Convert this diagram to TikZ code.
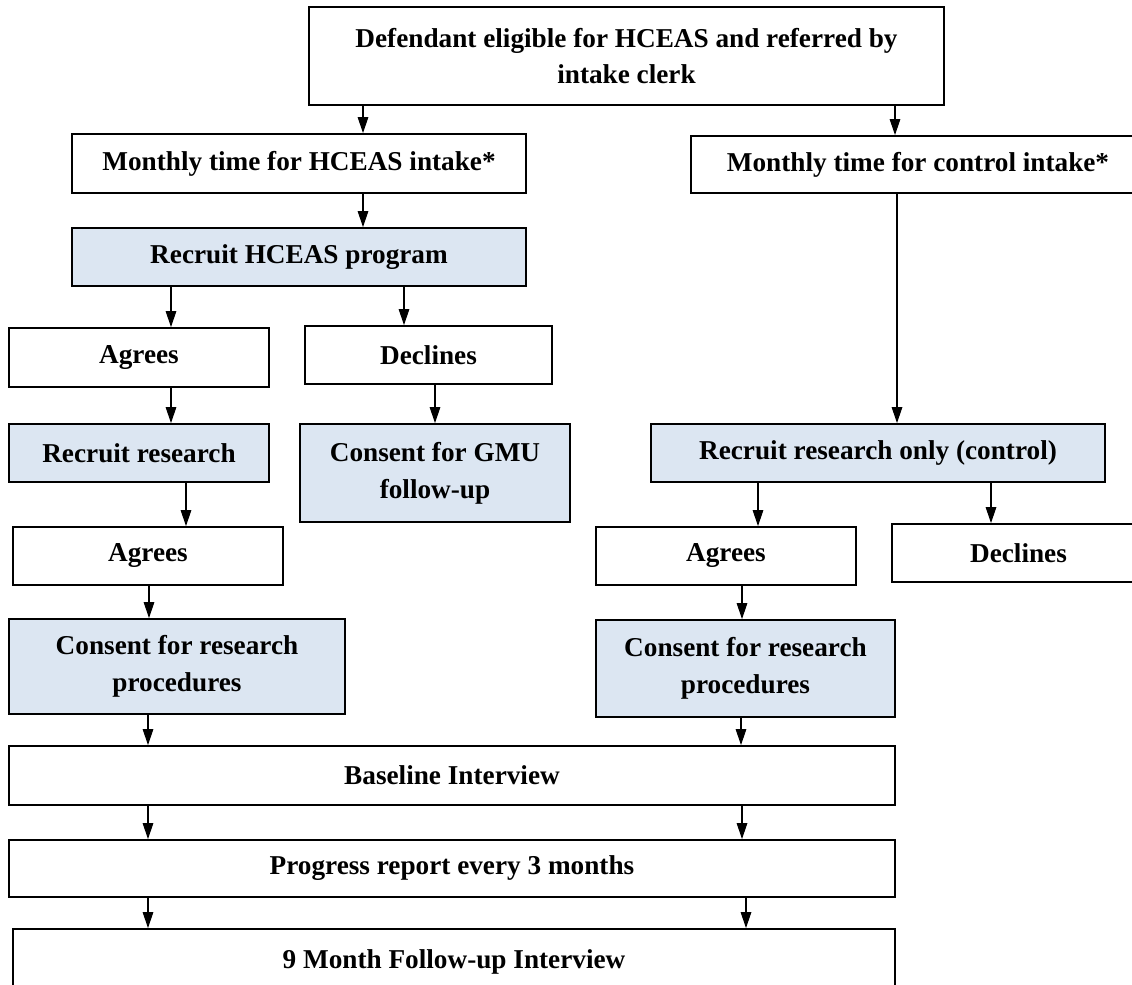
\documentclass[tikz,border=0pt]{standalone}
\usepackage{fontspec}
\setmainfont{Liberation Serif}
\usetikzlibrary{arrows.meta}
\definecolor{boxblue}{HTML}{DCE6F2}
\newcommand\bx[7]{\node[#6, minimum width={(#4-#2)*0.02cm}, minimum height={(#5-#3)*0.02cm}] (#1) at ({(#2+#4)/2},{(#3+#5)/2}) {#7};}
\tikzset{
  plain/.style={draw=black, line width=1.1pt, fill=white, inner sep=2pt, align=center,
    font=\fontsize{15.5}{21}\selectfont\bfseries},
  blue/.style={plain, fill=boxblue},
  arr/.style={line width=0.6pt, -{Triangle[length=9pt,width=6pt]}}
}
\begin{document}
\begin{tikzpicture}[x=0.02cm,y=-0.02cm]
\useasboundingbox (0,0) rectangle (1132,984);
\bx{top}{309}{7}{944}{105}{plain}{Defendant eligible for HCEAS and referred by\\intake clerk}
\bx{hint}{72}{134}{526}{193}{plain}{Monthly time for HCEAS intake*}
\bx{cint}{691}{136}{1145}{193}{plain}{Monthly time for control intake*}
\bx{rech}{72}{228}{526}{286}{blue}{Recruit HCEAS program}
\bx{agr1}{9}{328}{269}{387}{plain}{Agrees}
\bx{dec1}{305}{326}{552}{384}{plain}{Declines}
\bx{recr}{9}{424}{269}{482}{blue}{Recruit research}
\bx{gmu}{300}{424}{570}{522}{blue}{Consent for GMU\\follow-up}
\bx{recc}{651}{424}{1105}{482}{blue}{Recruit research only (control)}
\bx{agr2}{13}{527}{283}{585}{plain}{Agrees}
\bx{agr3}{596}{527}{856}{585}{plain}{Agrees}
\bx{dec2}{892}{524}{1145}{582}{plain}{Declines}
\bx{con1}{9}{619}{345}{714}{blue}{Consent for research\\procedures}
\bx{con2}{596}{620}{895}{717}{blue}{Consent for research\\procedures}
\bx{base}{9}{746}{895}{805}{plain}{Baseline Interview}
\bx{prog}{9}{840}{895}{897}{plain}{Progress report every 3 months}
\bx{nine}{13}{929}{895}{994}{plain}{9 Month Follow-up Interview}
\foreach \n/\x in {a/363,b/895,c/171,d/404,e/435,f/897,g/186,h/758,i/991,j/149,k/742,l/148,m/741,n/746}
  {\coordinate (x\n) at (\x,0);}
\draw[arr] (top.south -| xa) -- (hint.north -| xa);
\draw[arr] (top.south -| xb) -- (cint.north -| xb);
\draw[arr] (hint.south -| xa) -- (rech.north -| xa);
\draw[arr] (rech.south -| xc) -- (agr1.north -| xc);
\draw[arr] (rech.south -| xd) -- (dec1.north -| xd);
\draw[arr] (agr1.south -| xc) -- (recr.north -| xc);
\draw[arr] (dec1.south -| xe) -- (gmu.north -| xe);
\draw[arr] (cint.south -| xf) -- (recc.north -| xf);
\draw[arr] (recr.south -| xg) -- (agr2.north -| xg);
\draw[arr] (recc.south -| xh) -- (agr3.north -| xh);
\draw[arr] (recc.south -| xi) -- (dec2.north -| xi);
\draw[arr] (agr2.south -| xj) -- (con1.north -| xj);
\draw[arr] (agr3.south -| xk) -- (con2.north -| xk);
\draw[arr] (con1.south -| xl) -- (base.north -| xl);
\draw[arr] (con2.south -| xm) -- (base.north -| xm);
\draw[arr] (base.south -| xl) -- (prog.north -| xl);
\draw[arr] (base.south -| xk) -- (prog.north -| xk);
\draw[arr] (prog.south -| xl) -- (nine.north -| xl);
\draw[arr] (prog.south -| xn) -- (nine.north -| xn);
\end{tikzpicture}
\end{document}
